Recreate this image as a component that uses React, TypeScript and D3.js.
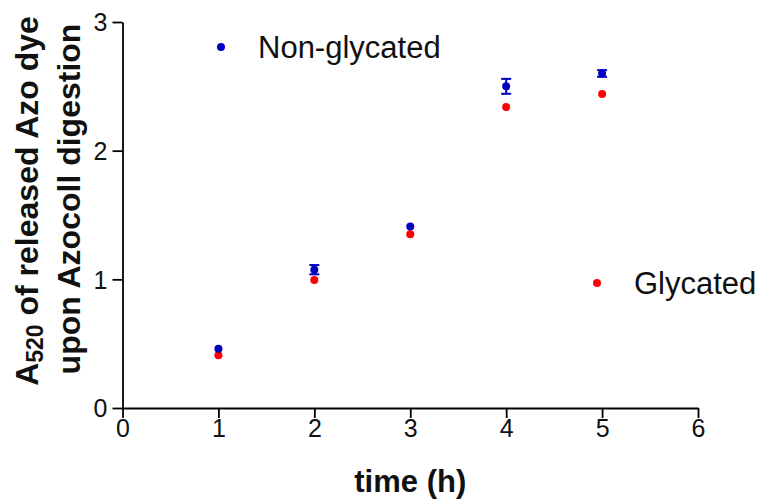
import React, { useRef, useEffect } from 'react';
import * as d3 from 'd3';

// time points (h)
const times = [1, 2, 3, 4, 5];
// Non-glycated mean and error
const nonGlycated = [0.46, 1.075, 1.41, 2.50, 2.60];
const nonGlycatedErr = [0, 0.036, 0, 0.058, 0.026];
// Glycated mean
const glycated = [0.41, 0.995, 1.35, 2.34, 2.44];

const xTicks = [0, 1, 2, 3, 4, 5, 6];
const yTicks = [0, 1, 2, 3];

const width = 760;
const height = 501;
const margin = { left: 122.5, right: 62, top: 22, bottom: 93 };

function App() {
  const svgRef = useRef<SVGSVGElement>(null);

  useEffect(() => {
    const svg = d3.select(svgRef.current);
    svg.selectAll('*').remove();

    const x = d3.scaleLinear().domain([0, 6]).range([margin.left, width - margin.right]);
    const y = d3.scaleLinear().domain([0, 3]).range([height - margin.bottom, margin.top]);

    const font = 'Arial, "Liberation Sans", sans-serif';
    const r = 4;

    // axes
    const xAxis = svg.append('g')
      .attr('transform', `translate(0,${y(0)})`)
      .call(d3.axisBottom(x).tickValues(xTicks).tickFormat(d3.format('d')).tickSize(10).tickSizeOuter(0).tickPadding(1));
    const yAxis = svg.append('g')
      .attr('transform', `translate(${x(0)},0)`)
      .call(d3.axisLeft(y).tickValues(yTicks).tickFormat(d3.format('d')).tickSize(10).tickSizeOuter(0).tickPadding(5));

    [xAxis, yAxis].forEach(a => {
      a.selectAll('path, line').attr('stroke', '#000').attr('stroke-width', 1.8);
      a.selectAll('text')
        .style('font-family', font)
        .style('font-size', '25px')
        .attr('fill', '#111');
    });
    yAxis.selectAll('text').attr('dy', '0.35em');
    xAxis.selectAll('text').attr('dy', '0.71em');

    // error bars (non-glycated)
    const eb = svg.append('g').attr('stroke', '#0000c0').attr('stroke-width', 2);
    times.forEach((t, i) => {
      if (nonGlycatedErr[i] <= 0) return;
      const lo = y(nonGlycated[i] - nonGlycatedErr[i]);
      const hi = y(nonGlycated[i] + nonGlycatedErr[i]);
      const cx = x(t);
      eb.append('line').attr('x1', cx).attr('x2', cx).attr('y1', lo).attr('y2', hi);
      [lo, hi].forEach(v => {
        eb.append('line').attr('x1', cx - 5).attr('x2', cx + 5).attr('y1', v).attr('y2', v);
      });
    });

    // points
    svg.append('g').selectAll('circle')
      .data(times)
      .join('circle')
      .attr('cx', d => x(d))
      .attr('cy', (d, i) => y(glycated[i]))
      .attr('r', r)
      .attr('fill', '#ff0000');

    svg.append('g').selectAll('circle')
      .data(times)
      .join('circle')
      .attr('cx', d => x(d))
      .attr('cy', (d, i) => y(nonGlycated[i]))
      .attr('r', r)
      .attr('fill', '#0000c0');

    // legend
    const legend = [
      { label: 'Non-glycated', color: '#0000c0', lx: 221, ly: 47 },
      { label: 'Glycated', color: '#ff0000', lx: 597, ly: 283 },
    ];
    legend.forEach(l => {
      svg.append('circle').attr('cx', l.lx).attr('cy', l.ly).attr('r', r).attr('fill', l.color);
      svg.append('text')
        .attr('x', l.lx + 37)
        .attr('y', l.ly)
        .attr('dy', '0.35em')
        .text(l.label)
        .style('font-family', font)
        .style('font-size', '31px')
        .attr('fill', '#111');
    });

    // axis titles
    svg.append('text')
      .attr('x', (x(0) + x(6)) / 2)
      .attr('y', 492)
      .attr('text-anchor', 'middle')
      .text('time (h)')
      .style('font-family', font)
      .style('font-size', '31px')
      .style('font-weight', 'bold')
      .attr('fill', '#111');

    const yl = svg.append('text')
      .attr('transform', `translate(38,201) rotate(-90)`)
      .attr('text-anchor', 'middle')
      .style('font-family', font)
      .style('font-size', '32px')
      .style('font-weight', 'bold')
      .attr('fill', '#111');
    yl.append('tspan').text('A');
    yl.append('tspan').attr('dy', 5).style('font-size', '23px').text('520');
    yl.append('tspan').attr('dy', -5).text(' of released Azo dye');

    svg.append('text')
      .attr('transform', `translate(80,199) rotate(-90)`)
      .attr('text-anchor', 'middle')
      .text('upon Azocoll digestion')
      .style('font-family', font)
      .style('font-size', '32px')
      .style('font-weight', 'bold')
      .attr('fill', '#111');
  }, []);

  return (
    <svg
      ref={svgRef}
      width={width}
      height={height}
      style={{ position: 'absolute', left: 0, top: 0, background: '#fff' }}
    />
  );
}

export default App;
